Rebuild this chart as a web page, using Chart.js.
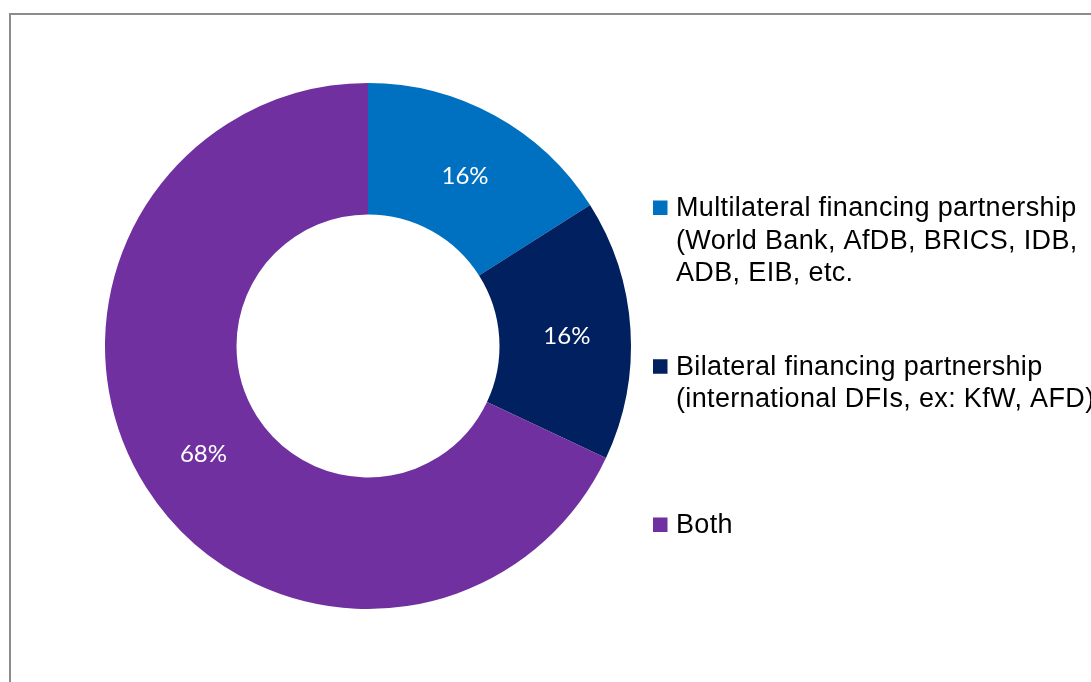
<!DOCTYPE html>
<html>
<head>
<meta charset="utf-8">
<script src="https://cdn.jsdelivr.net/npm/chart.js@4/dist/chart.umd.min.js"></script>
<style>
  html, body { margin: 0; padding: 0; background: #ffffff; }
  #wrap { width: 1091px; height: 682px; position: relative; }
</style>
</head>
<body>
<div id="wrap"><canvas id="chart" width="1091" height="682"></canvas></div>
<script>
// Financing partnership types (share of respondents, %)
const categories = ['Multilateral financing partnership', 'Bilateral financing partnership', 'Both'];
const legendLines = [
  ['Multilateral financing partnership', '(World Bank, AfDB, BRICS, IDB,', 'ADB, EIB, etc.'],
  ['Bilateral financing partnership', '(international DFIs, ex: KfW, AFD)'],
  ['Both']
];
const shares = [16, 16, 68];
const sliceColors = ['#0070C0', '#002060', '#7030A0'];

// Thin grey frame along the top and left edges
const framePlugin = {
  id: 'frame',
  beforeDraw(chart) {
    const ctx = chart.ctx;
    ctx.save();
    ctx.fillStyle = '#8c8c8c';
    ctx.fillRect(9, 13, chart.width, 2);
    ctx.fillRect(9, 13, 2, chart.height);
    ctx.restore();
  }
};

// Percentage labels at the middle of each ring segment
const sliceLabels = {
  id: 'sliceLabels',
  afterDatasetsDraw(chart) {
    const ctx = chart.ctx;
    const meta = chart.getDatasetMeta(0);
    ctx.save();
    ctx.fillStyle = '#ffffff';
    ctx.font = '24px Lato, "Open Sans", sans-serif';
    ctx.textAlign = 'center';
    ctx.textBaseline = 'middle';
    meta.data.forEach((arc, i) => {
      const p = arc.tooltipPosition();
      ctx.fillText(shares[i] + '%', p.x + 2, p.y + 3);
    });
    ctx.restore();
  }
};

// Legend on the right, items spread evenly, multi-line labels
const sideLegend = {
  id: 'sideLegend',
  afterDraw(chart) {
    const ctx = chart.ctx;
    const lineH = 32.5;
    const centers = [248.5, 391, 533];
    const boxX = 653, boxSize = 14.5, textX = 676;
    ctx.save();
    ctx.font = '27px "Liberation Sans", Arial, sans-serif';
    ctx.letterSpacing = '0.35px';
    ctx.textAlign = 'left';
    ctx.textBaseline = 'alphabetic';
    legendLines.forEach((lines, i) => {
      const firstBase = centers[i] - (lines.length - 1) * lineH / 2;
      ctx.fillStyle = chart.data.datasets[0].backgroundColor[i];
      ctx.fillRect(boxX, firstBase - 15.5, boxSize, boxSize);
      ctx.fillStyle = '#000000';
      lines.forEach((t, j) => ctx.fillText(t, textX, firstBase + j * lineH));
    });
    ctx.restore();
  }
};

new Chart(document.getElementById('chart'), {
  type: 'doughnut',
  data: {
    labels: categories,
    datasets: [{
      data: shares,
      backgroundColor: sliceColors,
      borderWidth: 0,
      hoverOffset: 0
    }]
  },
  options: {
    responsive: false,
    animation: false,
    cutout: '50%',
    layout: { padding: { left: 105, top: 83, right: 460, bottom: 73 } },
    plugins: {
      legend: { display: false },
      tooltip: { enabled: false }
    }
  },
  plugins: [framePlugin, sliceLabels, sideLegend]
});
</script>
</body>
</html>
